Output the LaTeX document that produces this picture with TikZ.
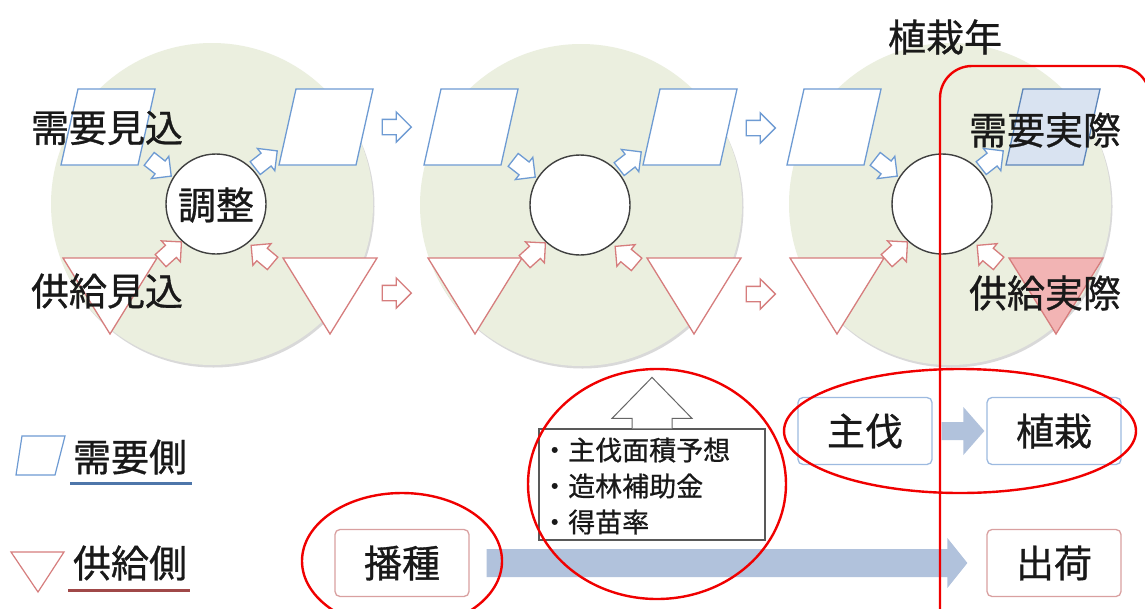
\documentclass[tikz,border=0pt]{standalone}
\usepackage{fontspec}
\newfontfamily\jp[BoldFont={Noto Sans CJK JP},BoldFeatures={FakeBold=0.8}]{Noto Sans CJK JP}
\usetikzlibrary{shapes.arrows,calc}
\definecolor{bgc}{HTML}{EBEFDF}
\definecolor{bl}{HTML}{6E9BD3}
\definecolor{rd}{HTML}{D67D7D}
\definecolor{blfill}{HTML}{D9E3F1}
\definecolor{bldark}{HTML}{5E86BA}
\definecolor{rdfill}{HTML}{F2B4B4}
\definecolor{arrowc}{HTML}{B1C2DC}
\definecolor{boxbl}{HTML}{9DBAE0}
\definecolor{boxrd}{HTML}{D9A0A0}
\definecolor{ulbl}{HTML}{4E76AA}
\definecolor{ulrd}{HTML}{A04848}
\definecolor{redline}{HTML}{F00000}
\begin{document}
\begin{tikzpicture}[x=1pt,y=-1pt,
  big/.style={font=\jp\bfseries\fontsize{38pt}{40pt}\selectfont, text=black!90, inner sep=0pt},
  small/.style={font=\jp\bfseries\fontsize{27pt}{36pt}\selectfont, text=black!90, inner sep=0pt},
  bigc/.style={circle, fill=bgc, minimum size=322pt, inner sep=0pt},
  inner/.style={circle, draw=black!75, line width=1.4pt, fill=white, minimum size=100pt, inner sep=0pt},
  blpara/.style={draw=bl, line width=1.3pt, fill=white},
  rdtri/.style={draw=rd, line width=1.3pt, fill=white},
  harrow/.style={single arrow, fill=white, line width=1.3pt, inner sep=0pt, text height=7pt, text depth=7pt, single arrow head extend=7.5pt, minimum height=29pt},
  darrow/.style={single arrow, fill=white, line width=1.3pt, inner sep=0pt, text height=7.5pt, text depth=7.5pt, single arrow head extend=6pt, minimum height=28pt},
  boxb/.style={draw=boxbl, line width=1.3pt, rounded corners=5pt, minimum width=134pt, minimum height=67pt, fill=white},
  boxr/.style={draw=boxrd, line width=1.3pt, rounded corners=5pt, minimum width=134pt, minimum height=67pt, fill=white},
  redmark/.style={draw=redline, line width=2.4pt}]
\useasboundingbox (0,0) rectangle (1145,608);
\clip (0,0) rectangle (1145,608);
\fill[white] (0,0) rectangle (1145,608);

% big background circles with faint shadow
\foreach \cx/\cy in {212/204, 581/205, 950/204}{
  \fill[gray!30] (\cx+1.5,\cy+2.5) circle (161pt);
}
\node[bigc] (c1) at (212,204) {};
\node[bigc] (c2) at (581,205) {};
\node[bigc] (c3) at (950,204) {};

% parallelograms (demand side)
\foreach \bx in {61, 279, 424, 643, 787}{
  \draw[blpara] (\bx+17,89) -- (\bx+94,89) -- (\bx+77,165) -- (\bx,165) -- cycle;
}
\draw[draw=bldark, line width=1.3pt, fill=blfill] (1023,89) -- (1100,89) -- (1083,165) -- (1006,165) -- cycle;

% inverted triangles (supply side)
\foreach \tx in {63, 283, 428, 647, 790}{
  \draw[rdtri] (\tx,258) -- (\tx+94,258) -- (\tx+47,334) -- cycle;
}
\draw[draw=rd, line width=1.3pt, fill=rdfill] (1009,258) -- (1103,258) -- (1056,334) -- cycle;

% inner adjustment circles
\node[inner] (a1) at (216,204) {};
\node[inner] (a2) at (580,205) {};
\node[inner] (a3) at (942,204) {};

% small diagonal arrows
\foreach \n in {a1,a2,a3}{
  \node[darrow, draw=bl, rotate=-38] at ($(\n)+(-59,-39)$) {};
  \node[darrow, draw=bl, rotate=38] at ($(\n)+(47,-42)$) {};
  \node[darrow, draw=rd, rotate=42] at ($(\n)+(-48,50)$) {};
  \node[darrow, draw=rd, rotate=140] at ($(\n)+(49,53)$) {};
}

% arrows between years
\node[harrow, draw=bl] (h1) at (393,127) {};
\node[harrow, draw=bl] (h2) at (757,128) {};
\node[harrow, draw=rd] (h3) at (393,293) {};
\node[harrow, draw=rd] (h4) at (757,294) {};

% labels on circles
\node[big] (dem) at (107,128) {需要見込};
\node[big] (sup) at (107,291) {供給見込};
\node[big] (adj) at (216,205) {調整};
\node[big] (year) at (945,37) {植栽年};
\node[big] (dema) at (1045,130) {需要実際};
\node[big] (supa) at (1045,293) {供給実際};

% legend
\draw[draw=bl, line width=1.2pt] (22,436) -- (65,436) -- (55,475) -- (16,475) -- cycle;
\node[big] (lg1) at (130,457) {需要側};
\draw[ulbl, line width=3pt] (70,483) -- (192,483);
\draw[draw=rd, line width=1.2pt] (11,552) -- (64,552) -- (38,592) -- cycle;
\node[big] (lg2) at (130,563) {供給側};
\draw[ulrd, line width=3pt] (68,590) -- (190,590);

% process boxes
\node[boxb] (cut) at (865,431) {};
\node[big] at (cut) {主伐};
\node[boxb] (plant) at (1054,431) {};
\node[big] at (plant) {植栽};
\node[boxr] (sow) at (402,563) {};
\node[big] at (sow) {播種};
\node[boxr] (ship) at (1054,563) {};
\node[big] at (ship) {出荷};

% wide arrows
\fill[arrowc] ($(cut.east)+(9,-9)$) -- ($(plant.west)+(-23,-9)$) -- ($(plant.west)+(-23,-24)$) -- ($(plant.west)+(-2,0)$) -- ($(plant.west)+(-23,24)$) -- ($(plant.west)+(-23,9)$) -- ($(cut.east)+(9,9)$) -- cycle;
\fill[arrowc] ($(sow.east)+(17,-14)$) -- ($(ship.west)+(-39,-14)$) -- ($(ship.west)+(-39,-25)$) -- ($(ship.west)+(-19,0)$) -- ($(ship.west)+(-39,25)$) -- ($(ship.west)+(-39,14)$) -- ($(sow.east)+(17,14)$) -- cycle;

% factor box with up arrow
\node[draw=black!65, line width=1.2pt, fill=white, minimum width=226pt, minimum height=111pt, inner sep=0pt] (fac) at (652,484.5) {};
\node[small, align=left, anchor=west] (factxt) at (541,486) {・主伐面積予想\\・造林補助金\\・得苗率};
\draw[draw=black!60, line width=1pt, fill=white] ($(fac.north)+(-20,0)$) -- ($(fac.north)+(-20,-10)$) -- ($(fac.north)+(-40,-10)$) -- ($(fac.north)+(0,-51)$) -- ($(fac.north)+(40,-10)$) -- ($(fac.north)+(20,-10)$) -- ($(fac.north)+(20,0)$);

% red highlight marks
\draw[redmark, rounded corners=32pt] (940,640) -- (940,66) -- (1150,66) -- (1150,640);
\draw[redmark] (657,484) ellipse [x radius=129pt, y radius=115pt];
\draw[redmark] (960,431) ellipse [x radius=176pt, y radius=62pt];
\draw[redmark] (402,561) ellipse [x radius=100pt, y radius=68pt];
\end{tikzpicture}
\end{document}
